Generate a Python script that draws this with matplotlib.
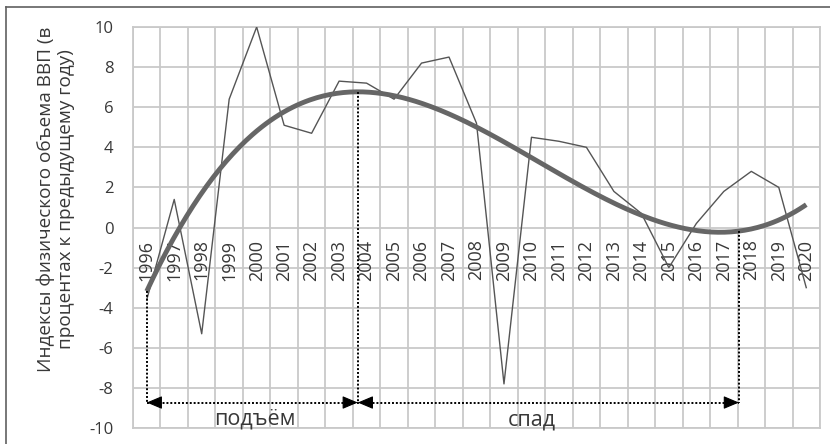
import numpy as np
import matplotlib.pyplot as plt
from matplotlib.lines import Line2D

# Data: GDP volume index, % to previous year
years = [str(y) for y in range(1996, 2021)]
gdp = [-3.6, 1.4, -5.3, 6.4, 10.0, 5.1, 4.7, 7.3, 7.2, 6.4, 8.2, 8.5, 5.2,
       -7.8, 4.5, 4.3, 4.0, 1.8, 0.7, -2.0, 0.2, 1.8, 2.8, 2.0, -3.0]
y_ticks = list(range(-10, 11, 2))

# phase annotation (positions in category index units)
rise_start = 0.0
rise_end = 7.68
fall_end = 21.55
arrow_level = -8.73
phase_labels = ["подъём", "спад"]

text_color = "#383838"
grid_color = "#c9c9c9"
plt.rcParams["font.family"] = ["Open Sans", "DejaVu Sans"]

fig = plt.figure(figsize=(8.3, 4.44), dpi=100)
ax = fig.add_axes([133 / 830, 1 - 428 / 444, (820 - 133) / 830, (428 - 27) / 444])

x = np.arange(len(years))

# polynomial trend (order 3), like an Excel trendline
coef = np.polyfit(x + 1, gdp, 3)
xs = np.linspace(0, len(years) - 1, 300)
trend = np.polyval(coef, xs + 1)

ax.plot(x, gdp, color="#555555", lw=1.0, zorder=3)
ax.plot(xs, trend, color="#666666", lw=3.5, solid_capstyle="butt", zorder=4)

ax.set_xlim(-0.5, len(years) - 0.5)
ax.set_ylim(-10, 10)
ax.set_yticks(y_ticks)
ax.set_yticklabels([str(v) for v in y_ticks], color=text_color, fontsize=12)
ax.set_xticks([])
ax.set_xticks(np.arange(-0.5, len(years), 1.0), minor=True)
ax.tick_params(axis="both", which="both", length=0)
ax.tick_params(axis="y", pad=14)
ax.grid(True, which="minor", axis="x", color=grid_color, lw=1.3)
ax.grid(True, which="major", axis="y", color=grid_color, lw=1.3)
ax.set_axisbelow(True)
for sp in ax.spines.values():
    sp.set_color(grid_color)
    sp.set_linewidth(1.3)

# rotated category labels under the zero line
for i, lab in enumerate(years):
    ax.annotate(lab, xy=(i, 0), xytext=(0, -12), textcoords="offset pixels",
                rotation=90, ha="center", va="top", fontsize=13, color=text_color,
                zorder=2)

# dotted guides and arrows
dot = dict(color="black", lw=1.4, ls=(0, (1, 1)), zorder=5)
for xv in [rise_start, rise_end, fall_end]:
    ax.plot([xv, xv], [np.polyval(coef, xv + 1), arrow_level], **dot)
ax.plot([rise_start, fall_end], [arrow_level, arrow_level], **dot)

head = dict(arrowstyle="-|>,head_length=0.95,head_width=0.4", color="black",
            lw=0.8, shrinkA=0, shrinkB=0, mutation_scale=10)
for tip, side in [(rise_start, 1), (rise_end, -1), (rise_end, 1), (fall_end, -1)]:
    ax.annotate("", xy=(tip, arrow_level), xytext=(13 * side, 0),
                textcoords="offset pixels", arrowprops=head, zorder=6)

ax.text((rise_start + rise_end) / 2 + 0.1, -9.55, phase_labels[0], ha="center",
        va="center", fontsize=15.5, color=text_color)
ax.text(14.0, -9.6, phase_labels[1], ha="center", va="center", fontsize=15.5,
        color=text_color)

fig.text(56 / 830, 1 - 199 / 444,
         "Индексы физического объема ВВП (в\nпроцентах к предыдущему году)",
         rotation=90, ha="center", va="center", multialignment="center",
         fontsize=13.7, color=text_color, linespacing=1.15)

# chart frame (top and left edges are visible in the crop)
fig.add_artist(Line2D([6 / 830, 1], [1 - 7 / 444, 1 - 7 / 444],
                      transform=fig.transFigure, color="#606060", lw=1.2))
fig.add_artist(Line2D([6 / 830, 6 / 830], [0, 1 - 7 / 444],
                      transform=fig.transFigure, color="#606060", lw=1.2))

fig.savefig("out.png", dpi=100)
